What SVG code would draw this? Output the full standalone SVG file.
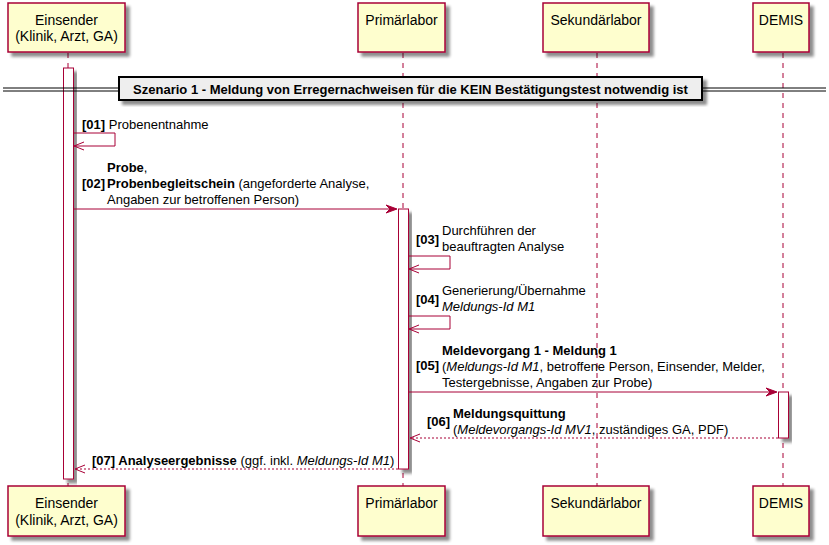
<svg xmlns="http://www.w3.org/2000/svg" width="829" height="545" viewBox="0 0 829 545">
<defs>
<filter id="sh" x="-20%" y="-20%" width="150%" height="150%">
<feGaussianBlur in="SourceAlpha" stdDeviation="1.7"/>
<feOffset dx="4" dy="4" result="b"/>
<feComponentTransfer><feFuncA type="linear" slope="0.45"/></feComponentTransfer>
<feMerge><feMergeNode/><feMergeNode in="SourceGraphic"/></feMerge>
</filter>
</defs>
<style>
text{font-family:"Liberation Sans",Arial,sans-serif;fill:#000}
.p{font-size:14px;text-anchor:middle}
.m{font-size:13px}
.b{font-weight:bold}
.i{font-style:italic}
.box{fill:#FEFECE;stroke:#A80036;stroke-width:1.5}
.life{stroke:#A80036;stroke-width:1;stroke-dasharray:5,5;fill:none}
.act{fill:#FFFFFF;stroke:#A80036;stroke-width:1}
.ln{stroke:#A80036;stroke-width:1;fill:none}
.dl{stroke:#A80036;stroke-width:1;fill:none;stroke-dasharray:2,2}
.ah{fill:#A80036;stroke:#A80036;stroke-width:1}
</style>
<rect width="829" height="545" fill="#FFFFFF"/>
<g id="lifelines">
<line class="life" x1="68" y1="53" x2="68" y2="486"/>
<line class="life" x1="403" y1="53" x2="403" y2="486"/>
<line class="life" x1="597" y1="53" x2="597" y2="486"/>
<line class="life" x1="783" y1="53" x2="783" y2="486"/>
</g>
<g id="participants-top">
<g id="p-einsender"><rect class="box" x="8" y="3" width="117" height="49" filter="url(#sh)"/><text class="p" x="66.5" y="25">Einsender</text><text class="p" x="66.5" y="41">(Klinik, Arzt, GA)</text></g>
<g id="p-primaer"><rect class="box" x="358" y="3" width="87" height="49" filter="url(#sh)"/><text class="p" x="401.5" y="25">Primärlabor</text></g>
<g id="p-sekundaer"><rect class="box" x="543" y="3" width="106" height="49" filter="url(#sh)"/><text class="p" x="596" y="25">Sekundärlabor</text></g>
<g id="p-demis"><rect class="box" x="753" y="3" width="56" height="49" filter="url(#sh)"/><text class="p" x="781" y="25">DEMIS</text></g>
</g>
<g id="participants-bottom">
<g id="p-einsender-b"><rect class="box" x="8" y="486" width="117" height="50" filter="url(#sh)"/><text class="p" x="66.5" y="508">Einsender</text><text class="p" x="66.5" y="524.5">(Klinik, Arzt, GA)</text></g>
<g id="p-primaer-b"><rect class="box" x="358" y="486" width="87" height="50" filter="url(#sh)"/><text class="p" x="401.5" y="508">Primärlabor</text></g>
<g id="p-sekundaer-b"><rect class="box" x="543" y="486" width="106" height="50" filter="url(#sh)"/><text class="p" x="596" y="508">Sekundärlabor</text></g>
<g id="p-demis-b"><rect class="box" x="753" y="486" width="56" height="50" filter="url(#sh)"/><text class="p" x="781" y="508">DEMIS</text></g>
</g>
<g id="activations">
<rect class="act" x="63.5" y="68" width="10" height="411" filter="url(#sh)"/>
<rect class="act" x="398.5" y="209" width="10" height="260" filter="url(#sh)"/>
<rect class="act" x="778.5" y="392" width="10" height="46" filter="url(#sh)"/>
</g>
<g id="divider">
<line x1="3" y1="88" x2="826" y2="88" stroke="#000" stroke-width="1"/>
<line x1="3" y1="91" x2="826" y2="91" stroke="#000" stroke-width="1"/>
<rect x="119" y="77" width="583" height="23" fill="#EEEEEE" stroke="#000" stroke-width="2" filter="url(#sh)"/>
<text class="m b" x="410.5" y="93.5" text-anchor="middle">Szenario 1 - Meldung von Erregernachweisen für die KEIN Bestätigungstest notwendig ist</text>
</g>
<g id="connectors">
<g id="m01">
<path class="ln" d="M73.5,133 H115 V146 H74"/>
<path class="ln" d="M84,142 L74,146 L84,150" stroke-width="1.5"/>
<text class="m" x="82" y="129"><tspan class="b">[01]</tspan> Probenentnahme</text>
</g>
<g id="m02">
<line class="ln" x1="73.5" y1="209" x2="396" y2="209"/>
<polygon class="ah" points="386,205 397,209 386,213 390,209"/>
<text class="m b" x="82" y="188">[02]</text>
<text class="m" x="107" y="172"><tspan class="b">Probe</tspan>,</text>
<text class="m" x="107" y="188"><tspan class="b">Probenbegleitschein</tspan> (angeforderte Analyse,</text>
<text class="m" x="107" y="204">Angaben zur betroffenen Person)</text>
</g>
<g id="m03">
<path class="ln" d="M408.5,256 H450 V269 H409"/>
<path class="ln" d="M419,265 L409,269 L419,273" stroke-width="1.5"/>
<text class="m b" x="416" y="244">[03]</text>
<text class="m" x="442" y="235">Durchführen der</text>
<text class="m" x="442" y="251">beauftragten Analyse</text>
</g>
<g id="m04">
<path class="ln" d="M408.5,316 H450 V329 H409"/>
<path class="ln" d="M419,325 L409,329 L419,333" stroke-width="1.5"/>
<text class="m b" x="416" y="304">[04]</text>
<text class="m" x="442" y="295">Generierung/Übernahme</text>
<text class="m i" x="442" y="311">Meldungs-Id M1</text>
</g>
<g id="m05">
<line class="ln" x1="408.5" y1="392" x2="776" y2="392"/>
<polygon class="ah" points="766,388 777,392 766,396 770,392"/>
<text class="m b" x="416" y="370">[05]</text>
<text class="m b" x="442" y="355">Meldevorgang 1 - Meldung 1</text>
<text class="m" x="442" y="371">(<tspan class="i">Meldungs-Id M1</tspan>, betroffene Person, Einsender, Melder,</text>
<text class="m" x="442" y="387">Testergebnisse, Angaben zur Probe)</text>
</g>
<g id="m06">
<line class="dl" x1="778" y1="438" x2="410" y2="438"/>
<path class="ln" d="M420,434 L410,438 L420,442" stroke-width="1.5"/>
<text class="m b" x="427" y="426">[06]</text>
<text class="m b" x="453" y="418">Meldungsquittung</text>
<text class="m" x="453" y="434">(<tspan class="i">Meldevorgangs-Id MV1</tspan>, zuständiges GA, PDF)</text>
</g>
<g id="m07">
<line class="dl" x1="398" y1="469" x2="75" y2="469"/>
<path class="ln" d="M85,465 L75,469 L85,473" stroke-width="1.5"/>
<text class="m" x="92" y="465"><tspan class="b">[07] Analyseergebnisse</tspan> (ggf. inkl. <tspan class="i">Meldungs-Id M1</tspan>)</text>
</g>
</g>
</svg>
